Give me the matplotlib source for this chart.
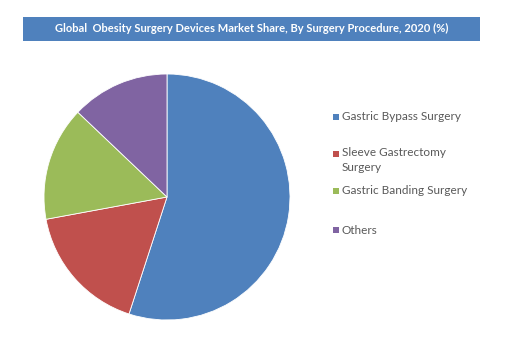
import matplotlib.pyplot as plt
from matplotlib.patches import Rectangle

W, H = 505, 338

procedures = ["Gastric Bypass Surgery", "Sleeve Gastrectomy\nSurgery",
              "Gastric Banding Surgery", "Others"]
shares = [55.0, 17.1, 15.0, 12.9]
colors = ["#4F81BD", "#C0504D", "#9BBB59", "#8064A2"]

plt.rcParams['font.family'] = ['Lato', 'DejaVu Sans']

fig = plt.figure(figsize=(W / 100, H / 100), dpi=100)
fig.patch.set_facecolor("white")

def fx(px):
    return px / W

def fy(py):
    return 1 - py / H

# title banner
fig.patches.append(Rectangle((fx(23), fy(41)), fx(480) - fx(23), (41 - 17) / H,
                             transform=fig.transFigure, facecolor="#4F81BD",
                             edgecolor="none", zorder=0))
fig.text(fx(252), fy(28), "Global  Obesity Surgery Devices Market Share, By Surgery Procedure, 2020 (%)",
         ha="center", va="center", color="white", fontsize=8.0, fontweight="bold")

# pie
cx, cy, r = 167, 197, 123
ax = fig.add_axes([fx(cx - r), fy(cy + r), 2 * r / W, 2 * r / H])
ax.pie(shares, colors=colors, startangle=90, counterclock=False,
       wedgeprops=dict(edgecolor="white", linewidth=0.6))
ax.set_xlim(-1, 1)
ax.set_ylim(-1, 1)
ax.set_aspect("equal")
ax.axis("off")

# legend entries (marker centred on the first text line)
rows = [117, 154, 191, 230]
for label, col, y in zip(procedures, colors, rows):
    fig.patches.append(Rectangle((fx(333), fy(y + 3)), 6 / W, 6 / H,
                                 transform=fig.transFigure, facecolor=col,
                                 edgecolor="none"))
    if "\n" in label:
        fig.text(fx(342), fy(y - 7), label, ha="left", va="top",
                 color="#595959", fontsize=8.5, linespacing=1.4)
    else:
        fig.text(fx(342), fy(y), label, ha="left", va="center",
                 color="#595959", fontsize=8.5)

fig.savefig("out.png", dpi=100)
